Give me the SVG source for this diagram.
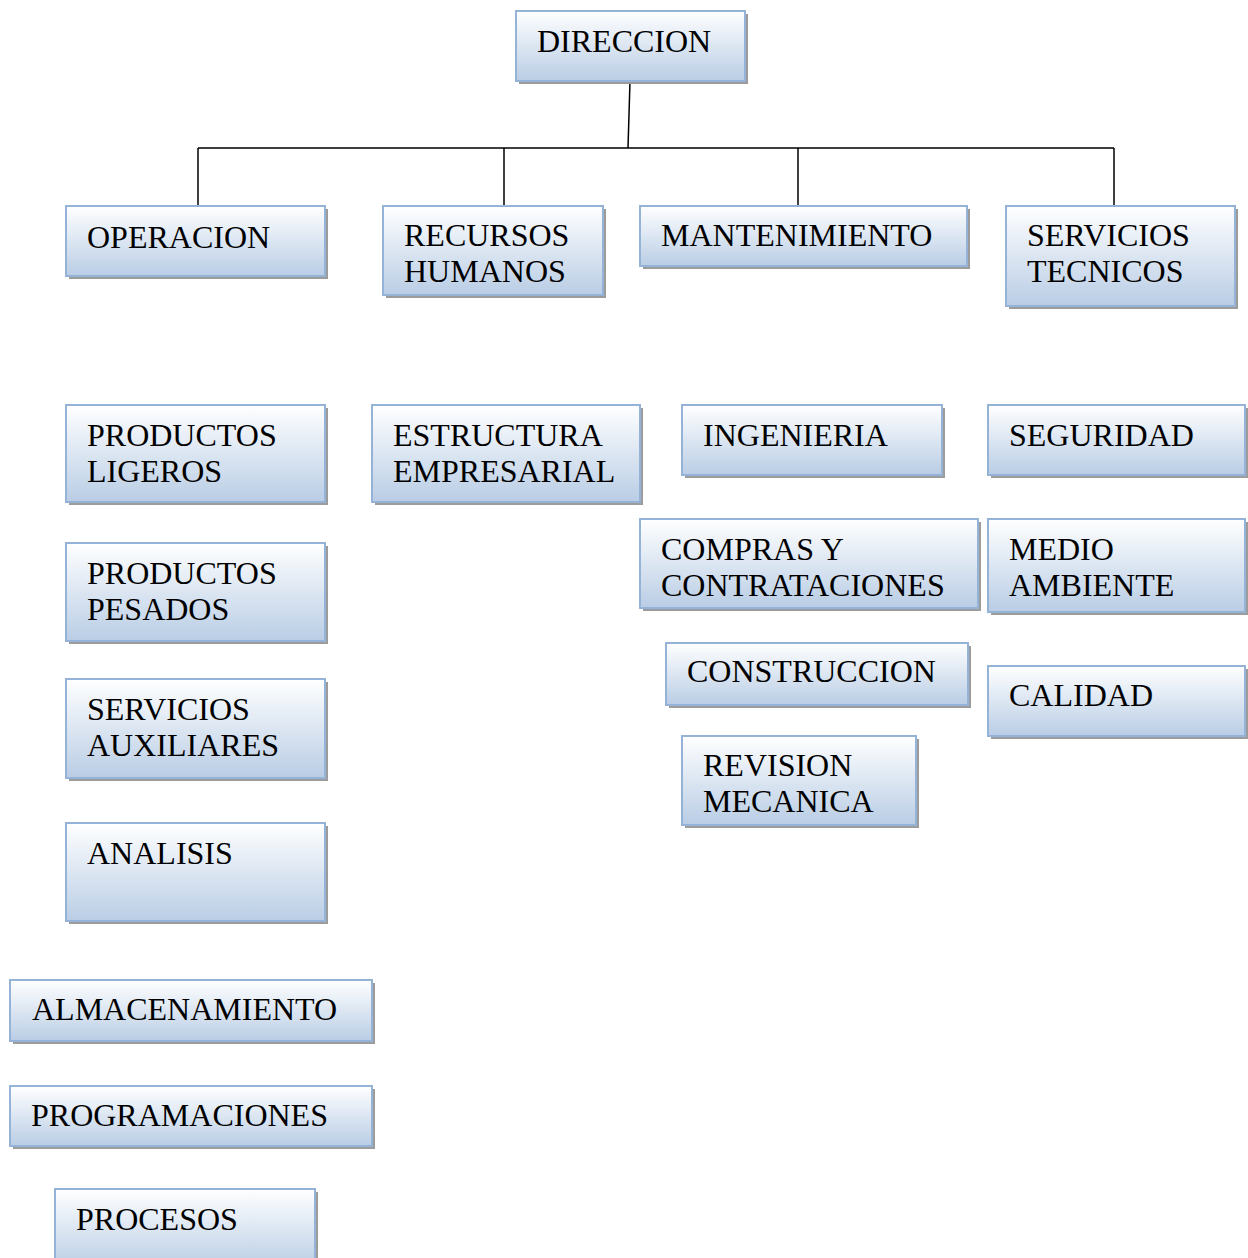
<svg xmlns="http://www.w3.org/2000/svg" width="1248" height="1258" viewBox="0 0 1248 1258">
<defs>
<linearGradient id="g" x1="0" y1="0" x2="0" y2="1">
<stop offset="0" stop-color="#ffffff"/>
<stop offset="1" stop-color="#b9cde5"/>
</linearGradient>
<style>
.sh{fill:#9c9c9c}
.bx{fill:url(#g);stroke:#95b3d7;stroke-width:2}
.t{font-family:"Liberation Serif","Times New Roman",serif;font-size:32px;fill:#000}
.c{stroke:#000;stroke-width:1.5;fill:none}
</style>
</defs>
<rect width="1248" height="1258" fill="#fff"/>
<g id="connectors">
<path class="c" d="M630 81 L628 148 M198 148 L1114 148 M198 148 V206 M504 148 V206 M798 148 V206 M1114 148 V206"/>
</g>
<g id="direccion"><rect class="sh" x="519" y="14" width="229" height="70"/><rect class="bx" x="516" y="11" width="229" height="70"/><text class="t" x="537" y="52">DIRECCION</text></g>
<g id="operacion"><rect class="sh" x="69" y="209" width="259" height="70"/><rect class="bx" x="66" y="206" width="259" height="70"/><text class="t" x="87" y="248">OPERACION</text></g>
<g id="recursos"><rect class="sh" x="386" y="209" width="220" height="89"/><rect class="bx" x="383" y="206" width="220" height="89"/><text class="t" x="404" y="246">RECURSOS</text><text class="t" x="404" y="282">HUMANOS</text></g>
<g id="mantenimiento"><rect class="sh" x="643" y="209" width="327" height="60"/><rect class="bx" x="640" y="206" width="327" height="60"/><text class="t" x="661" y="246">MANTENIMIENTO</text></g>
<g id="servicios-tecnicos"><rect class="sh" x="1009" y="209" width="229" height="100"/><rect class="bx" x="1006" y="206" width="229" height="100"/><text class="t" x="1027" y="246">SERVICIOS</text><text class="t" x="1027" y="282">TECNICOS</text></g>
<g id="productos-ligeros"><rect class="sh" x="69" y="408" width="259" height="97"/><rect class="bx" x="66" y="405" width="259" height="97"/><text class="t" x="87" y="446">PRODUCTOS</text><text class="t" x="87" y="482">LIGEROS</text></g>
<g id="estructura"><rect class="sh" x="375" y="408" width="268" height="97"/><rect class="bx" x="372" y="405" width="268" height="97"/><text class="t" x="393" y="446">ESTRUCTURA</text><text class="t" x="393" y="482">EMPRESARIAL</text></g>
<g id="ingenieria"><rect class="sh" x="685" y="408" width="260" height="70"/><rect class="bx" x="682" y="405" width="260" height="70"/><text class="t" x="703" y="446">INGENIERIA</text></g>
<g id="seguridad"><rect class="sh" x="991" y="408" width="257" height="70"/><rect class="bx" x="988" y="405" width="257" height="70"/><text class="t" x="1009" y="446">SEGURIDAD</text></g>
<g id="compras"><rect class="sh" x="643" y="522" width="338" height="89"/><rect class="bx" x="640" y="519" width="338" height="89"/><text class="t" x="661" y="560">COMPRAS Y</text><text class="t" x="661" y="596">CONTRATACIONES</text></g>
<g id="medio-ambiente"><rect class="sh" x="991" y="522" width="257" height="93"/><rect class="bx" x="988" y="519" width="257" height="93"/><text class="t" x="1009" y="560">MEDIO</text><text class="t" x="1009" y="596">AMBIENTE</text></g>
<g id="construccion"><rect class="sh" x="669" y="646" width="302" height="62"/><rect class="bx" x="666" y="643" width="302" height="62"/><text class="t" x="687" y="682">CONSTRUCCION</text></g>
<g id="calidad"><rect class="sh" x="991" y="669" width="257" height="70"/><rect class="bx" x="988" y="666" width="257" height="70"/><text class="t" x="1009" y="706">CALIDAD</text></g>
<g id="revision"><rect class="sh" x="685" y="739" width="234" height="89"/><rect class="bx" x="682" y="736" width="234" height="89"/><text class="t" x="703" y="776">REVISION</text><text class="t" x="703" y="812">MECANICA</text></g>
<g id="productos-pesados"><rect class="sh" x="69" y="546" width="259" height="98"/><rect class="bx" x="66" y="543" width="259" height="98"/><text class="t" x="87" y="584">PRODUCTOS</text><text class="t" x="87" y="620">PESADOS</text></g>
<g id="servicios-auxiliares"><rect class="sh" x="69" y="682" width="259" height="99"/><rect class="bx" x="66" y="679" width="259" height="99"/><text class="t" x="87" y="720">SERVICIOS</text><text class="t" x="87" y="756">AUXILIARES</text></g>
<g id="analisis"><rect class="sh" x="69" y="826" width="259" height="98"/><rect class="bx" x="66" y="823" width="259" height="98"/><text class="t" x="87" y="864">ANALISIS</text></g>
<g id="almacenamiento"><rect class="sh" x="13" y="983" width="362" height="61"/><rect class="bx" x="10" y="980" width="362" height="61"/><text class="t" x="32" y="1020">ALMACENAMIENTO</text></g>
<g id="programaciones"><rect class="sh" x="13" y="1089" width="362" height="60"/><rect class="bx" x="10" y="1086" width="362" height="60"/><text class="t" x="31" y="1126">PROGRAMACIONES</text></g>
<g id="procesos"><rect class="sh" x="58" y="1192" width="260" height="80"/><rect class="bx" x="55" y="1189" width="260" height="80"/><text class="t" x="76" y="1230">PROCESOS</text></g>
</svg>
